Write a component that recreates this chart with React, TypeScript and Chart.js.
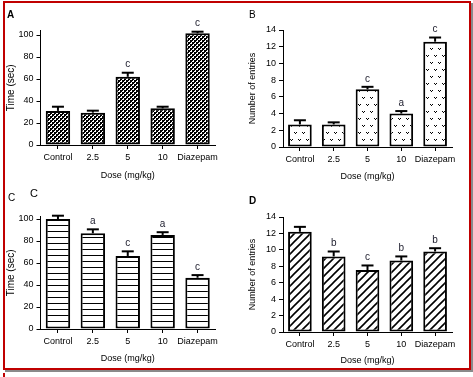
import React, { useEffect, useRef } from 'react';
import { Chart, registerables } from 'chart.js';

Chart.register(...registerables);

const categories = ['Control', '2.5', '5', '10', 'Diazepam'];

const timeA = [31, 29.4, 62, 33.3, 101.5];
const timeAErr = [3.8, 1.8, 3.7, 1.5, 1.5];
const timeALetters = ['', '', 'c', '', 'c'];

const entriesB = [2.7, 2.7, 6.9, 4.0, 12.6];
const entriesBErr = [0.5, 0.25, 0.3, 0.3, 0.5];
const entriesBLetters = ['', '', 'c', 'a', 'c'];

const timeC = [100, 87, 66.4, 85.5, 46.6];
const timeCErr = [3, 3.6, 4.2, 2.5, 2.4];
const timeCLetters = ['', 'a', 'c', 'a', 'c'];

const entriesD = [12.2, 9.2, 7.55, 8.7, 9.8];
const entriesDErr = [0.6, 0.6, 0.55, 0.5, 0.4];
const entriesDLetters = ['', 'b', 'c', 'b', 'b'];

const FONT = '"Liberation Sans", Arial, sans-serif';

function makePattern(kind: string): CanvasPattern | string {
  const c = document.createElement('canvas');
  const g = c.getContext('2d');
  if (!g) return '#888';
  if (kind === 'checker') {
    c.width = 4; c.height = 4;
    g.fillStyle = '#fff'; g.fillRect(0, 0, 4, 4);
    g.fillStyle = '#000'; g.fillRect(0, 0, 2, 2); g.fillRect(2, 2, 2, 2);
    g.fillRect(2, 0, 1, 1); g.fillRect(0, 2, 1, 1);
  } else if (kind === 'dots') {
    c.width = 8; c.height = 14;
    g.fillStyle = '#fff'; g.fillRect(0, 0, 8, 14);
    g.fillStyle = '#000';
    const v = (x: number, y: number) => {
      g.fillRect(x, y, 1, 1); g.fillRect(x + 2, y, 1, 1); g.fillRect(x + 1, y + 1, 1, 1);
    };
    v(1, 2); v(5, 9);
  } else if (kind === 'hlines') {
    c.width = 4; c.height = 6;
    g.fillStyle = '#fff'; g.fillRect(0, 0, 4, 6);
    g.fillStyle = '#000'; g.fillRect(0, 2, 4, 1);
  } else {
    c.width = 8; c.height = 8;
    g.fillStyle = '#fff'; g.fillRect(0, 0, 8, 8);
    g.strokeStyle = '#000'; g.lineWidth = 1.6;
    g.beginPath();
    g.moveTo(0, 8); g.lineTo(8, 0);
    g.moveTo(-1, 1); g.lineTo(1, -1);
    g.moveTo(7, 9); g.lineTo(9, 7);
    g.stroke();
  }
  return g.createPattern(c, 'repeat') || '#888';
}

const errPlugin = {
  id: 'errbars',
  afterDatasetsDraw(chart: any, _args: any, opts: any) {
    const { ctx } = chart;
    const meta = chart.getDatasetMeta(0);
    const ys = chart.scales.y;
    const data = chart.data.datasets[0].data as number[];
    ctx.save();
    meta.data.forEach((bar: any, i: number) => {
      const v = data[i];
      const top = ys.getPixelForValue(v);
      const eTop = ys.getPixelForValue(v + opts.errors[i]);
      ctx.strokeStyle = '#000';
      ctx.lineWidth = 2;
      ctx.beginPath();
      ctx.moveTo(bar.x, top);
      ctx.lineTo(bar.x, eTop);
      ctx.stroke();
      ctx.beginPath();
      ctx.moveTo(bar.x - 6, eTop);
      ctx.lineTo(bar.x + 6, eTop);
      ctx.stroke();
      const l = opts.letters[i];
      if (l) {
        ctx.fillStyle = '#1c1c2c';
        ctx.font = '10px ' + FONT;
        ctx.textAlign = 'center';
        ctx.textBaseline = 'bottom';
        ctx.fillText(l, bar.x, eTop - 3);
      }
    });
    ctx.restore();
  },
};

type PanelProps = {
  rect: number[];
  area: number[];
  values: number[];
  errors: number[];
  letters: string[];
  yMax: number;
  yStep: number;
  yTitle: string;
  yTitleSize: number;
  yTitlePad: number;
  xTitlePad: number;
  pattern: string;
};

function Panel(p: PanelProps) {
  const ref = useRef<HTMLCanvasElement>(null);
  useEffect(() => {
    if (!ref.current) return;
    const [cx, cy, cw, ch] = p.rect;
    const [L, T, R, B] = p.area;
    const l = L - cx, t = T - cy, r = R - cx, b = B - cy;
    const chart = new Chart(ref.current, {
      type: 'bar',
      data: {
        labels: categories,
        datasets: [{
          data: p.values,
          backgroundColor: makePattern(p.pattern) as any,
          borderColor: '#000',
          borderWidth: 2,
          borderSkipped: false,
          barPercentage: 0.7,
          categoryPercentage: 1,
        }],
      },
      options: {
        animation: false,
        responsive: false,
        devicePixelRatio: 1,
        layout: { padding: { left: 0, top: t, right: cw - r, bottom: 0 } },
        plugins: {
          legend: { display: false },
          tooltip: { enabled: false },
          errbars: { errors: p.errors, letters: p.letters },
        } as any,
        scales: {
          x: {
            grid: { display: true, drawOnChartArea: false, drawTicks: true, tickLength: 4, color: '#000', offset: false },
            border: { display: true, color: '#000', width: 1 },
            ticks: { color: '#000', font: { family: FONT, size: 9 }, padding: 3, maxRotation: 0, autoSkip: false },
            title: { display: true, text: 'Dose (mg/kg)', color: '#000', font: { family: FONT, size: 9, lineHeight: 1 }, padding: { top: 0, bottom: p.xTitlePad } },
            afterFit: (s: any) => { s.height = ch - b; },
          },
          y: {
            min: 0,
            max: p.yMax,
            grid: { display: true, drawOnChartArea: false, drawTicks: true, tickLength: 4, color: '#000' },
            border: { display: true, color: '#000', width: 1 },
            ticks: { stepSize: p.yStep, color: '#000', font: { family: FONT, size: 9 }, padding: 3 },
            afterBuildTicks: (s: any) => {
              const arr: any[] = [];
              for (let v = 0; v <= p.yMax + 1e-6; v += p.yStep) arr.push({ value: v });
              s.ticks = arr;
            },
            title: { display: true, text: p.yTitle, color: '#000', font: { family: FONT, size: p.yTitleSize, lineHeight: 1 }, padding: { top: p.yTitlePad, bottom: 0 } },
            afterFit: (s: any) => { s.width = l; },
          },
        },
      } as any,
      plugins: [errPlugin],
    });
    return () => chart.destroy();
  }, []);
  const [cx, cy, cw, ch] = p.rect;
  return (
    <canvas
      ref={ref}
      width={cw}
      height={ch}
      style={{ position: 'absolute', left: cx, top: cy, width: cw, height: ch }}
    />
  );
}

const labelStyle = (left: number, top: number, size: number, bold: boolean): React.CSSProperties => ({
  position: 'absolute', left, top, fontFamily: FONT, fontSize: size, fontWeight: bold ? 'bold' : 'normal', lineHeight: 1, color: '#000',
});

export default function App() {
  return (
    <div style={{ position: 'fixed', left: 0, top: 0, width: 473, height: 377, background: '#fff', overflow: 'hidden' }}>
      <div style={{ position: 'absolute', left: 3, top: 1, width: 468, height: 369, boxSizing: 'border-box', border: '2px solid #c00000', boxShadow: '2px 2px 0 #8a8a8a' }} />
      <div style={{ position: 'absolute', left: 3, top: 373, width: 2, height: 4, background: '#c00000' }} />
      <Panel rect={[6, 4, 228, 180]} area={[40.5, 30.6, 215, 145]} values={timeA} errors={timeAErr} letters={timeALetters}
        yMax={104} yStep={20} yTitle="Time (sec)" yTitleSize={10} yTitlePad={0} xTitlePad={4} pattern="checker" />
      <Panel rect={[237, 4, 230, 180]} area={[283, 30, 452, 147]} values={entriesB} errors={entriesBErr} letters={entriesBLetters}
        yMax={14} yStep={2} yTitle="Number of entries" yTitleSize={9} yTitlePad={11.5} xTitlePad={2.5} pattern="dots" />
      <Panel rect={[6, 187, 228, 180]} area={[40.5, 216.8, 215, 329]} values={timeC} errors={timeCErr} letters={timeCLetters}
        yMax={102} yStep={20} yTitle="Time (sec)" yTitleSize={10} yTitlePad={0} xTitlePad={3.5} pattern="hlines" />
      <Panel rect={[237, 187, 230, 180]} area={[283, 217, 452, 332]} values={entriesD} errors={entriesDErr} letters={entriesDLetters}
        yMax={14} yStep={2} yTitle="Number of entries" yTitleSize={9} yTitlePad={11.5} xTitlePad={1.8} pattern="diag" />
      <span style={labelStyle(7, 10, 10, true)}>A</span>
      <span style={labelStyle(249, 10, 10, false)}>B</span>
      <span style={labelStyle(8, 193, 10, false)}>C</span>
      <span style={labelStyle(30, 188, 11, false)}>C</span>
      <span style={labelStyle(249, 196, 10, true)}>D</span>
    </div>
  );
}
